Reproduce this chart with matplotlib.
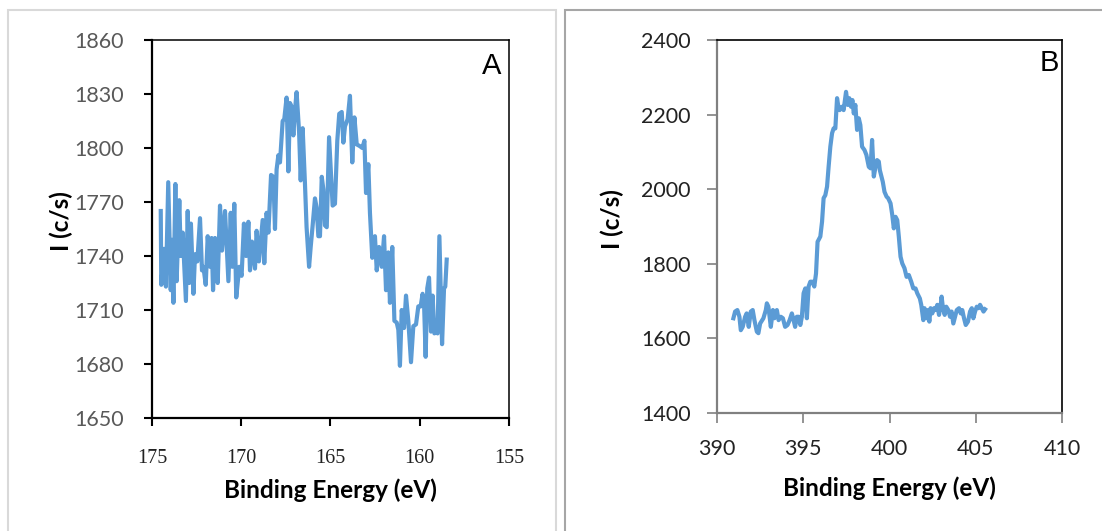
import matplotlib.pyplot as plt
from matplotlib.patches import Rectangle

# panel A: S 2p region (binding energy, counts)
energy_a = [174.51, 174.48, 174.33, 174.22, 174.09, 173.95, 173.88, 173.80, 173.69, 173.62,
            173.47, 173.39, 173.28, 173.10, 173.00, 172.91, 172.82, 172.68, 172.59, 172.46,
            172.31, 172.20, 172.12, 171.99, 171.88, 171.75, 171.66, 171.58, 171.47, 171.32,
            171.19, 171.08, 170.91, 170.72, 170.59, 170.50, 170.39, 170.28, 170.11, 169.98,
            169.85, 169.73, 169.60, 169.51, 169.40, 169.23, 169.14, 169.01, 168.80, 168.71,
            168.58, 168.48, 168.33, 168.20, 168.11, 168.02, 167.92, 167.83, 167.68, 167.59,
            167.46, 167.36, 167.27, 167.18, 167.08, 166.99, 166.90, 166.76, 166.67, 166.56,
            166.43, 166.34, 166.20, 166.11, 166.00, 165.87, 165.78, 165.68, 165.59, 165.49,
            165.40, 165.31, 165.21, 165.08, 164.88, 164.75, 164.62, 164.51, 164.37, 164.28,
            164.19, 164.04, 163.91, 163.78, 163.66, 163.53, 163.35, 163.22, 163.10, 163.01,
            162.88, 162.79, 162.66, 162.51, 162.41, 162.28, 162.13, 162.00, 161.89, 161.76,
            161.67, 161.54, 161.42, 161.29, 161.20, 161.11, 161.01, 160.88, 160.77, 160.64,
            160.49, 160.36, 160.21, 160.08, 159.95, 159.84, 159.76, 159.67, 159.58, 159.48,
            159.37, 159.28, 159.18, 159.05, 159.00, 158.90, 158.75, 158.64, 158.57, 158.49]
counts_a = [1765, 1724, 1744, 1723, 1781, 1721, 1749, 1714, 1780, 1726,
            1771, 1740, 1753, 1715, 1765, 1725, 1758, 1719, 1741, 1737,
            1761, 1732, 1734, 1724, 1751, 1734, 1750, 1721, 1750, 1725,
            1768, 1743, 1765, 1726, 1764, 1734, 1769, 1717, 1734, 1729,
            1758, 1740, 1759, 1732, 1748, 1733, 1754, 1737, 1760, 1736,
            1764, 1753, 1785, 1784, 1755, 1788, 1796, 1792, 1815, 1816,
            1828, 1787, 1825, 1823, 1807, 1821, 1831, 1809, 1782, 1811,
            1780, 1756, 1734, 1745, 1757, 1772, 1767, 1751, 1751, 1784,
            1777, 1757, 1756, 1806, 1768, 1769, 1804, 1819, 1820, 1803,
            1812, 1816, 1829, 1792, 1817, 1802, 1801, 1800, 1804, 1775,
            1791, 1764, 1739, 1751, 1732, 1745, 1734, 1751, 1721, 1742,
            1714, 1745, 1704, 1703, 1699, 1679, 1710, 1700, 1718, 1704,
            1681, 1701, 1702, 1712, 1712, 1719, 1714, 1684, 1722, 1728,
            1698, 1718, 1697, 1699, 1697, 1751, 1691, 1722, 1723, 1738]

# panel B: N 1s region
energy_b = [390.95, 391.05, 391.18, 391.30, 391.38, 391.49, 391.63, 391.72, 391.84, 391.96,
            392.07, 392.17, 392.31, 392.40, 392.50, 392.69, 392.83, 392.89, 392.98, 393.12,
            393.24, 393.33, 393.47, 393.57, 393.70, 393.82, 393.95, 394.09, 394.21, 394.34,
            394.44, 394.53, 394.63, 394.73, 394.83, 394.92, 395.02, 395.12, 395.21, 395.31,
            395.41, 395.54, 395.64, 395.74, 395.83, 395.99, 396.09, 396.18, 396.28, 396.38,
            396.47, 396.57, 396.67, 396.76, 396.86, 396.96, 397.02, 397.11, 397.25, 397.34,
            397.48, 397.58, 397.67, 397.77, 397.85, 397.93, 398.02, 398.12, 398.22, 398.31,
            398.41, 398.55, 398.66, 398.80, 398.90, 398.99, 399.09, 399.19, 399.28, 399.38,
            399.44, 399.53, 399.61, 399.71, 399.83, 399.92, 400.06, 400.16, 400.25, 400.35,
            400.45, 400.54, 400.64, 400.74, 400.87, 400.99, 401.12, 401.26, 401.38, 401.51,
            401.61, 401.76, 401.84, 401.96, 402.03, 402.13, 402.23, 402.31, 402.38, 402.48,
            402.58, 402.67, 402.77, 402.87, 402.97, 403.02, 403.10, 403.20, 403.29, 403.41,
            403.51, 403.60, 403.70, 403.80, 403.90, 404.03, 404.13, 404.22, 404.32, 404.42,
            404.55, 404.67, 404.77, 404.86, 404.96, 405.06, 405.16, 405.25, 405.35, 405.45,
            405.54]
counts_b = [1654, 1672, 1676, 1658, 1622, 1631, 1658, 1667, 1631, 1672,
            1676, 1649, 1618, 1614, 1640, 1654, 1676, 1694, 1685, 1631,
            1676, 1654, 1676, 1649, 1658, 1654, 1631, 1636, 1649, 1667,
            1649, 1631, 1658, 1658, 1636, 1658, 1721, 1734, 1654, 1739,
            1752, 1752, 1739, 1774, 1859, 1873, 1913, 1976, 1984, 2007,
            2060, 2114, 2150, 2163, 2163, 2244, 2226, 2212, 2221, 2212,
            2261, 2226, 2244, 2221, 2239, 2203, 2226, 2159, 2190, 2172,
            2114, 2105, 2092, 2060, 2056, 2132, 2034, 2060, 2078, 2074,
            2051, 2034, 2020, 1993, 1980, 1976, 1962, 1931, 1895, 1926,
            1917, 1873, 1819, 1801, 1788, 1765, 1770, 1752, 1734, 1734,
            1721, 1707, 1690, 1649, 1681, 1654, 1676, 1645, 1681, 1667,
            1681, 1676, 1690, 1663, 1690, 1712, 1681, 1663, 1685, 1676,
            1658, 1672, 1640, 1658, 1676, 1681, 1667, 1676, 1654, 1636,
            1645, 1672, 1681, 1654, 1672, 1685, 1681, 1690, 1681, 1672,
            1678]

yticks_a = [1650, 1680, 1710, 1740, 1770, 1800, 1830, 1860]
xticks_a = [175, 170, 165, 160, 155]
yticks_b = [1400, 1600, 1800, 2000, 2200, 2400]
xticks_b = [390, 395, 400, 405, 410]

blue = '#5B9BD5'
gray = '#595959'

fig = plt.figure(figsize=(11.02, 5.31), dpi=100)

# outer chart frames
fig.patches.append(Rectangle((8/1102, -0.1), 548/1102, 1.1 - 10/531, transform=fig.transFigure,
                             fill=False, ec='#d9d9d9', lw=1.5))
fig.patches.append(Rectangle((565/1102, -0.1), 0.6, 1.1 - 10/531, transform=fig.transFigure,
                             fill=False, ec='#a6a6a6', lw=1.5))

# ---- A ----
ax1 = fig.add_axes([152/1102, 113/531, 357/1102, 378/531])
ax1.plot(energy_a, counts_a, color=blue, lw=3.0)
ax1.set_xlim(175, 155)
ax1.set_ylim(1650, 1860)
ax1.set_xticks(xticks_a)
ax1.set_yticks(yticks_a)
ax1.set_xticklabels([str(v) for v in xticks_a], fontfamily='Liberation Serif', fontsize=14.5, color='#222222')
ax1.set_yticklabels([str(v) for v in yticks_a], fontfamily='Lato', fontsize=15.5, color=gray)
ax1.tick_params(axis='x', direction='out', length=6, width=1.5, pad=16)
ax1.tick_params(axis='y', direction='out', length=6, width=1.5, pad=14)
for s in ['left', 'bottom']:
    ax1.spines[s].set_linewidth(1.6)
for s in ['top', 'right']:
    ax1.spines[s].set_linewidth(1.1)
ax1.set_xlabel('Binding Energy (eV)', fontfamily='Lato', fontweight='bold', fontsize=17.5)
ax1.set_ylabel('I (c/s)', fontfamily='Lato', fontweight='bold', fontsize=17.5)
ax1.xaxis.set_label_coords(0.5, -0.16)
ax1.yaxis.set_label_coords(-0.222, 0.52)

# ---- B ----
ax2 = fig.add_axes([717/1102, 118/531, 345/1102, 373/531])
ax2.plot(energy_b, counts_b, color=blue, lw=3.0)
ax2.set_xlim(390, 410)
ax2.set_ylim(1400, 2400)
ax2.set_xticks(xticks_b)
ax2.set_yticks(yticks_b)
ax2.set_xticklabels([str(v) for v in xticks_b], fontfamily='Lato', fontsize=15.5, color='#222222')
ax2.set_yticklabels([str(v) for v in yticks_b], fontfamily='Lato', fontsize=15.5, color='#222222')
ax2.tick_params(direction='out', length=7, width=1.2, color='#808080', pad=12)
for s in ['left', 'bottom']:
    ax2.spines[s].set_linewidth(1.6)
    ax2.spines[s].set_color('#808080')
for s in ['top', 'right']:
    ax2.spines[s].set_linewidth(1.2)
ax2.set_xlabel('Binding Energy (eV)', fontfamily='Lato', fontweight='bold', fontsize=17.5)
ax2.set_ylabel('I (c/s)', fontfamily='Lato', fontweight='bold', fontsize=17.5)
ax2.xaxis.set_label_coords(0.5, -0.17)
ax2.yaxis.set_label_coords(-0.27, 0.52)

fig.text(492/1102, 1 - 66/531, 'A', fontfamily='Liberation Sans', fontsize=21, ha='center', va='center')
fig.text(1049/1102, 1 - 63/531, 'B', fontfamily='Liberation Sans', fontsize=21, ha='center', va='center')

fig.savefig('out.png', dpi=100)
